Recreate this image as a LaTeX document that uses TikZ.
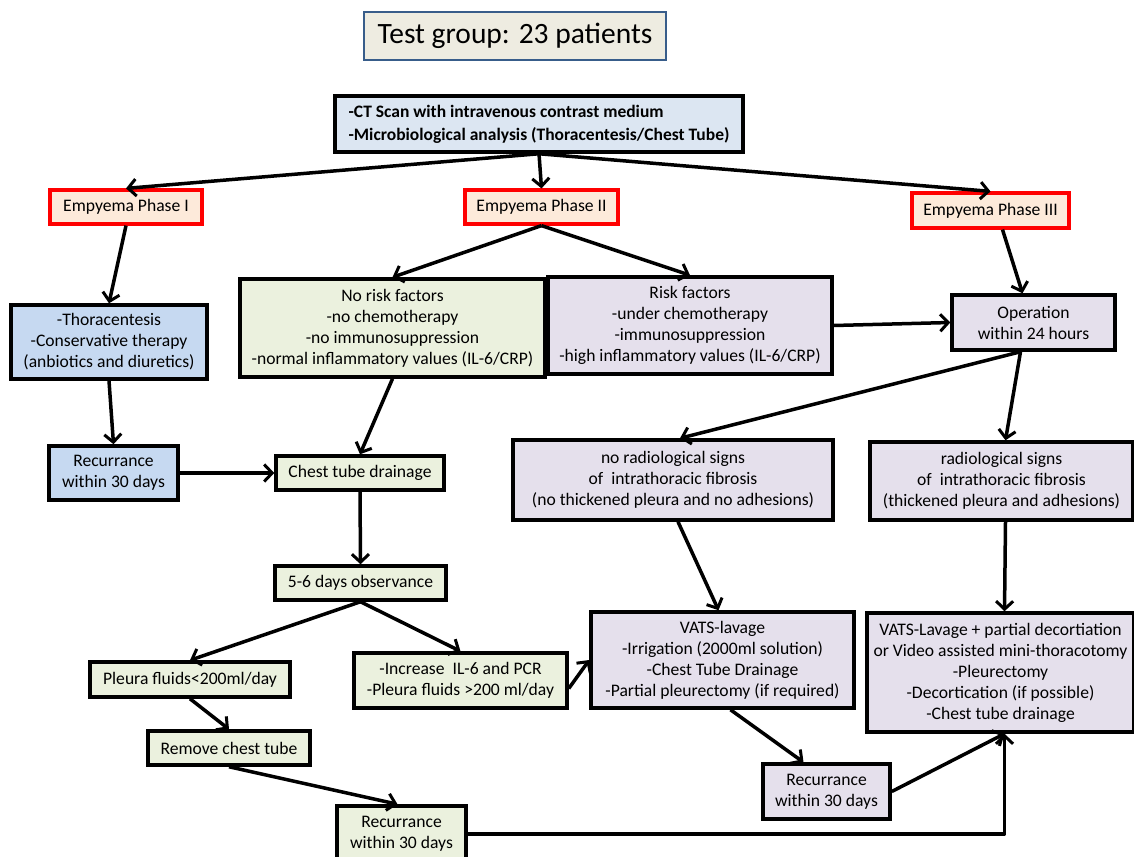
\documentclass[tikz,border=0pt]{standalone}
\usepackage{fontspec}
\setmainfont{Carlito}
\usetikzlibrary{arrows.meta}
\definecolor{phfill}{HTML}{FDEADA}
\definecolor{ctfill}{HTML}{DCE6F2}
\definecolor{bluefill}{HTML}{C6D9F1}
\definecolor{greenfill}{HTML}{EBF1DE}
\definecolor{lavfill}{HTML}{E5E0EC}
\definecolor{titlefill}{HTML}{EEECE1}
\definecolor{titleborder}{HTML}{385D8A}
\tikzset{
  box/.style={draw=black, line width=3.5pt, align=center, inner sep=0pt,
    font=\fontsize{17.6}{21}\selectfont},
  phase/.style={box, draw=red, line width=3.2pt, fill=phfill},
  bluebox/.style={box, fill=bluefill},
  greenbox/.style={box, fill=greenfill},
  lavbox/.style={box, fill=lavfill},
  arr/.style={line width=3.5pt, -{Straight Barb[length=8pt,width=17pt,line width=3pt]}, line join=round},
}
\begin{document}
\begin{tikzpicture}[x=1pt,y=-1pt]
\useasboundingbox (0,0) rectangle (1134,856);
\fill[white] (0,0) rectangle (1134,856);

\node[draw=titleborder, line width=2pt, fill=titlefill, minimum width=302pt, minimum height=48pt,
  inner sep=0pt, font=\fontsize{29.5}{32}\selectfont] (title) at (515,36) {Test group: 23 patients};

\node[box, fill=ctfill, minimum width=408pt, minimum height=56pt, align=left,
  font=\fontsize{17.5}{23}\selectfont\bfseries] (ct) at (539,124)
  {-CT Scan with intravenous contrast medium\\-Microbiological analysis (Thoracentesis/Chest Tube)};

\node[phase, minimum width=152pt, minimum height=34pt] (p1) at (126,207) {Empyema Phase I};
\node[phase, minimum width=153pt, minimum height=34pt] (p2) at (541.5,207) {Empyema Phase II};
\node[phase, minimum width=157pt, minimum height=35pt] (p3) at (990.5,210.5) {Empyema Phase III};

\node[bluebox, minimum width=196pt, minimum height=74pt] (thor) at (109,342)
  {-Thoracentesis\\-Conservative therapy\\(anbiotics and diuretics)};
\node[greenbox, minimum width=305pt, minimum height=98pt] (norisk) at (392.5,328)
  {No risk factors\\-no chemotherapy\\-no immunosuppression\\-normal inflammatory values (IL-6/CRP)};
\node[lavbox, minimum width=284pt, minimum height=97pt] (risk) at (690,325.5)
  {Risk factors\\-under chemotherapy\\-immunosuppression\\-high inflammatory values (IL-6/CRP)};
\node[lavbox, minimum width=163pt, minimum height=55pt] (op) at (1033.5,322.5)
  {Operation\\within 24 hours};

\node[bluebox, minimum width=129pt, minimum height=54pt] (recl) at (113.5,473)
  {Recurrance\\within 30 days};
\node[greenbox, minimum width=168pt, minimum height=34pt] (ctd) at (360,473) {Chest tube drainage};
\node[lavbox, minimum width=320pt, minimum height=80pt] (nrad) at (673,480)
  {no radiological signs\\of\ \ intrathoracic fibrosis\\(no thickened pleura and no adhesions)};
\node[lavbox, minimum width=263pt, minimum height=78pt] (rad) at (1001.5,481)
  {radiological signs\\of\ \ intrathoracic fibrosis\\(thickened pleura and adhesions)};

\node[greenbox, minimum width=171pt, minimum height=34pt] (obs) at (360.5,583) {5-6 days observance};
\node[greenbox, minimum width=200pt, minimum height=35pt] (pleura) at (190,679.5) {Pleura fluids<200ml/day};
\node[greenbox, minimum width=213pt, minimum height=55pt] (inc) at (460.5,680.5)
  {-Increase\ \ IL-6 and PCR\\-Pleura fluids >200 ml/day};
\node[lavbox, minimum width=263pt, minimum height=96pt] (vats) at (722.5,660)
  {VATS-lavage\\-Irrigation (2000ml solution)\\-Chest Tube Drainage\\-Partial pleurectomy (if required)};
\node[lavbox, minimum width=267pt, minimum height=119pt] (vats2) at (1000.5,672.5)
  {VATS-Lavage + partial decortiation\\or Video assisted mini-thoracotomy\\-Pleurectomy\\-Decortication (if possible)\\-Chest tube drainage};

\node[greenbox, minimum width=162pt, minimum height=34pt] (remove) at (229,748) {Remove chest tube};
\node[greenbox, minimum width=129pt, minimum height=56pt] (recb) at (401.5,834)
  {Recurrance\\within 30 days};
\node[lavbox, minimum width=127pt, minimum height=55pt] (recv) at (826.5,791.5)
  {Recurrance\\within 30 days};

% connectors
\draw[arr] (ct.south) -- (p1.north);
\draw[arr] (ct.south) -- (p2.north);
\draw[arr] (ct.south) -- (p3.north);
\draw[arr] (p1.south) -- (thor.north);
\draw[arr] (thor.south) -- (recl.north);
\draw[arr] (recl.east) -- (ctd.west);
\draw[arr] (p2.south) -- (norisk.north);
\draw[arr] (p2.south) -- (risk.north);
\draw[arr] ([xshift=12pt]p3.south) -- ([xshift=-11pt]op.north);
\draw[arr] (risk.east) -- (op.west);
\draw[arr] ([xshift=-13pt]op.south) -- ([xshift=7pt]nrad.north);
\draw[arr] ([xshift=-13pt]op.south) -- ([xshift=4pt]rad.north);
\draw[arr] (norisk.south) -- (ctd.north);
\draw[arr] (ctd.south) -- (obs.north);
\draw[arr] (obs.south) -- (pleura.north);
\draw[arr] (obs.south) -- (inc.north);
\draw[arr] ([yshift=-8pt]inc.east) -- (vats.west);
\draw[arr] ([xshift=5pt]nrad.south) -- ([xshift=-4pt]vats.north);
\draw[arr] ([xshift=4pt]rad.south) -- ([xshift=4pt]vats2.north);
\draw[arr] (pleura.south) -- (remove.north);
\draw[arr] (remove.south) -- ([xshift=-4pt]recb.north);
\draw[arr] ([xshift=8pt]vats.south) -- ([xshift=-23pt]recv.north);
\draw[arr] (recv.east) -- ([xshift=4pt]vats2.south);
\draw[arr] (recb.east) -| ([xshift=4pt]vats2.south);
\end{tikzpicture}
\end{document}
